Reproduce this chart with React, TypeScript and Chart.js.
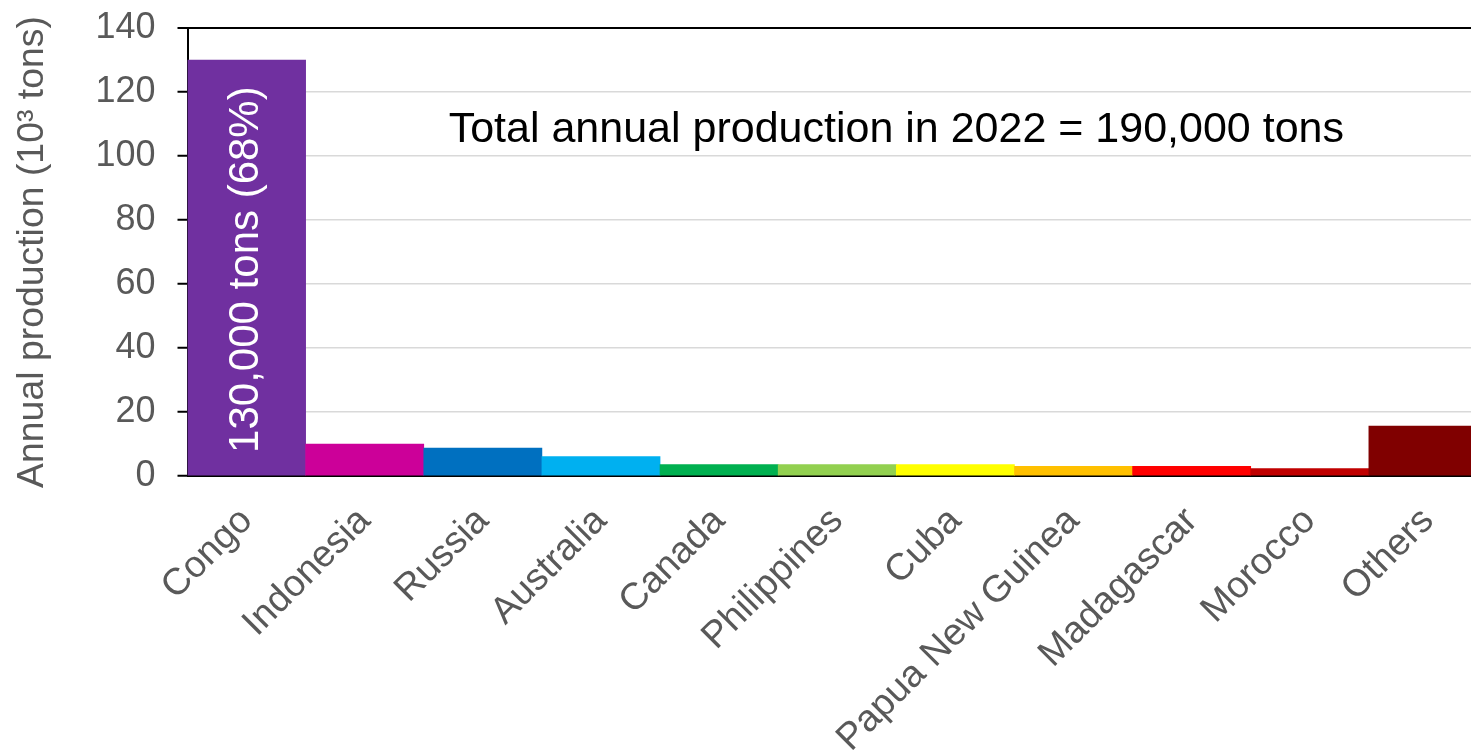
import React, { useEffect, useRef } from "react";
import { Chart, registerables } from "chart.js";

Chart.register(...registerables);

const categories = [
  "Congo",
  "Indonesia",
  "Russia",
  "Australia",
  "Canada",
  "Philippines",
  "Cuba",
  "Papua New Guinea",
  "Madagascar",
  "Morocco",
  "Others",
];

const production = [130, 10, 8.7, 6.1, 3.6, 3.6, 3.6, 3.0, 3.0, 2.3, 15.6];

const barColors = [
  "#7030A0",
  "#CC0099",
  "#0070C0",
  "#00B0F0",
  "#00B050",
  "#92D050",
  "#FFFF00",
  "#FFC000",
  "#FF0000",
  "#C00000",
  "#800000",
];

const yTicks = [0, 20, 40, 60, 80, 100, 120, 140];

const totalText = "Total annual production in 2022 = 190,000 tons";
const congoText = "130,000 tons (68%)";
const yTitle = "Annual production (10³ tons)";

const FONT = "'Liberation Sans', Arial, sans-serif";

const textPlugin = {
  id: "annotText",
  afterDatasetsDraw(chart: any) {
    const { ctx, scales } = chart;
    const x = scales.x;
    const y = scales.y;
    ctx.save();
    // total annotation
    ctx.font = `43px ${FONT}`;
    ctx.fillStyle = "#000000";
    ctx.textAlign = "center";
    ctx.textBaseline = "alphabetic";
    ctx.fillText(totalText, x.getPixelForValue(5.5), y.getPixelForValue(104.5));
    // Congo vertical label
    ctx.translate(x.getPixelForValue(0), y.getPixelForValue(production[0] / 2 - 0.5));
    ctx.rotate(-Math.PI / 2);
    ctx.font = `42px ${FONT}`;
    ctx.fillStyle = "#FFFFFF";
    ctx.textAlign = "center";
    ctx.textBaseline = "middle";
    ctx.fillText(congoText, 0, 0);
    ctx.restore();
  },
};

export default function App() {
  const ref = useRef<HTMLCanvasElement | null>(null);

  useEffect(() => {
    if (!ref.current) return;
    const chart = new Chart(ref.current, {
      type: "bar",
      data: {
        labels: categories,
        datasets: [
          {
            data: production,
            backgroundColor: barColors,
            borderWidth: 0,
            barPercentage: 1,
            categoryPercentage: 1,
          },
        ],
      },
      options: {
        animation: false,
        responsive: false,
        devicePixelRatio: 1,
        layout: { padding: { top: 28, right: 0, left: 0, bottom: 0 } },
        plugins: {
          legend: { display: false },
          tooltip: { enabled: false },
        },
        scales: {
          x: {
            grid: { drawOnChartArea: false, drawTicks: false },
            border: { display: true, color: "#000000", width: 2 },
            ticks: {
              minRotation: 45,
              maxRotation: 45,
              autoSkip: false,
              color: "#595959",
              padding: 23,
              font: { family: FONT, size: 37.5 },
            },
            afterFit: (scale: any) => {
              scale.height = 275;
              scale.paddingTop = 0;
              scale.paddingBottom = 0;
            },
          },
          y: {
            min: 0,
            max: 140,
            afterBuildTicks: (scale: any) => {
              scale.ticks = yTicks.map((v) => ({ value: v }));
            },
            grid: {
              color: (c: any) => (c.tick && c.tick.value === 140 ? "#000000" : "#D9D9D9"),
              lineWidth: (c: any) => (c.tick && c.tick.value === 140 ? 2 : 1.5),
              tickColor: "#000000",
              tickLength: 10,
              tickWidth: 2,
            },
            border: { display: true, color: "#000000", width: 2 },
            ticks: {
              color: "#595959",
              padding: 22,
              font: { family: FONT, size: 36 },
            },
            title: {
              display: true,
              text: yTitle,
              color: "#595959",
              padding: { top: 10, bottom: 0 },
              font: { family: FONT, size: 37.4 },
            },
            afterFit: (scale: any) => {
              scale.width = 187.5;
              scale.paddingTop = 0;
              scale.paddingBottom = 0;
            },
          },
        },
      },
      plugins: [textPlugin],
    });
    return () => chart.destroy();
  }, []);

  return (
    <div
      style={{
        position: "absolute",
        left: 0,
        top: 0,
        width: 1471,
        height: 751,
        overflow: "hidden",
        background: "#ffffff",
      }}
    >
      <canvas ref={ref} width={1487} height={751} style={{ display: "block" }} />
    </div>
  );
}
